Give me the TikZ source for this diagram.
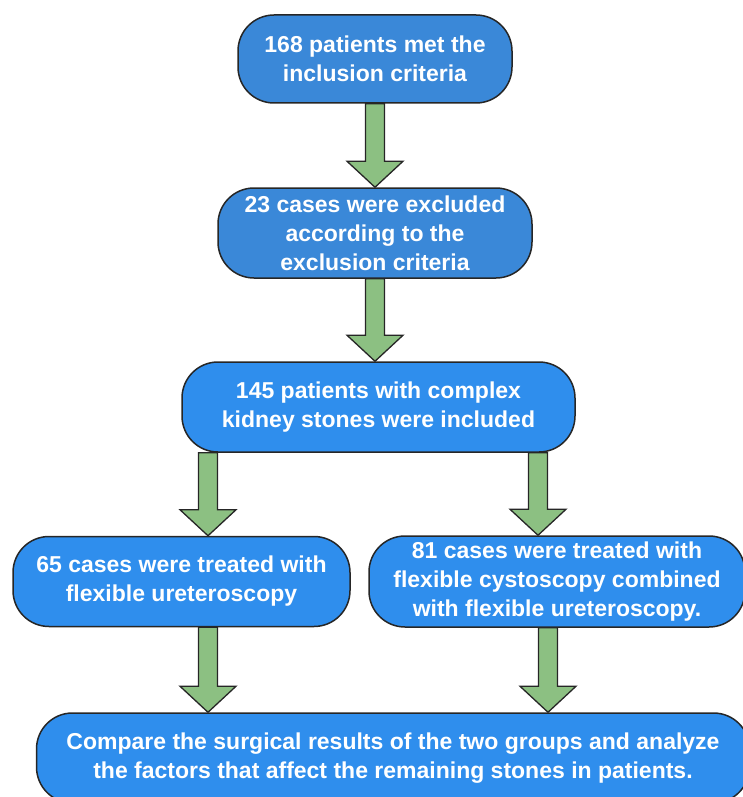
\documentclass[tikz,border=0pt]{standalone}
\usepackage{fontspec}
\setmainfont{Liberation Sans}
\usetikzlibrary{calc}
\definecolor{boxA}{RGB}{58,136,216}
\definecolor{boxB}{RGB}{47,142,237}
\definecolor{edgegray}{RGB}{38,38,38}
\definecolor{arrgreen}{RGB}{140,192,130}
\newcommand\blockarrow[2]{%
  \path[blockarr] let \p1=(#1), \p2=(#2) in
   (\x1-9.5pt,\y1) -- (\x1+9.5pt,\y1) -- (\x1+9.5pt,\y2+26pt) -- (\x1+28pt,\y2+26pt)
   -- (\x1,\y2) -- (\x1-28pt,\y2+26pt) -- (\x1-9.5pt,\y2+26pt) -- cycle;}
\begin{document}
\begin{tikzpicture}[x=1pt,y=-1pt,
  flowbox/.style={draw=edgegray,line width=1.5pt,rounded corners=36pt,text=white,
    align=center,inner sep=0pt,font=\fontsize{23}{29}\selectfont\bfseries},
  blockarr/.style={draw=edgegray,fill=arrgreen,line width=1.3pt,line join=miter}]
\useasboundingbox (0,0) rectangle (743,797);
\node[flowbox,fill=boxA,minimum width=274pt,minimum height=88pt] (b1) at (375,59)
  {168 patients met the\\inclusion criteria};
\node[flowbox,fill=boxA,minimum width=314pt,minimum height=90pt] (b2) at (375,233)
  {23 cases were excluded\\according to the\\exclusion criteria};
\node[flowbox,fill=boxB,minimum width=393pt,minimum height=90pt] (b3) at (378.5,407)
  {145 patients with complex\\kidney stones were included};
\node[flowbox,fill=boxB,minimum width=337pt,minimum height=90pt] (b4) at (181.5,581.5)
  {65 cases were treated with\\flexible ureteroscopy};
\node[flowbox,fill=boxB,minimum width=376pt,minimum height=91pt] (b5) at (557,581.5)
  {81 cases were treated with\\flexible cystoscopy combined\\with flexible ureteroscopy.};
\node[flowbox,fill=boxB,minimum width=713pt,minimum height=90pt] (b6) at (393,758)
  {Compare the surgical results of the two groups and analyze\\the factors that affect the remaining stones in patients.};
\coordinate (L) at (208,0);
\coordinate (R1) at (538,0);
\coordinate (R2) at (548,0);
\blockarrow{b1.south}{b2.north}
\blockarrow{b2.south}{b2.south |- b3.north}
\blockarrow{b3.south -| L}{b4.north -| L}
\blockarrow{b3.south -| R1}{b5.north -| R1}
\blockarrow{b4.south -| L}{b6.north -| L}
\blockarrow{b5.south -| R2}{b6.north -| R2}
\end{tikzpicture}
\end{document}
